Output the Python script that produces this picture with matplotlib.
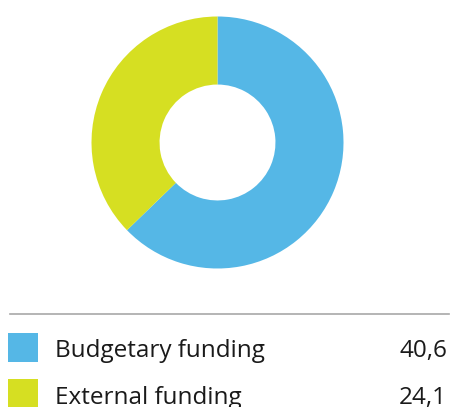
import matplotlib
matplotlib.use("Agg")
import matplotlib.pyplot as plt
from matplotlib.patches import Rectangle
from matplotlib.lines import Line2D

categories = ["Budgetary funding", "External funding"]
values = [40.6, 24.1]
value_labels = ["40,6", "24,1"]
colors = ["#55B7E6", "#D6DF22"]

W, H = 450, 407
fig = plt.figure(figsize=(W / 100, H / 100), dpi=100)
fig.patch.set_facecolor("white")

cx, cy, r = 217.5, 142.5, 126
ax = fig.add_axes([(cx - r) / W, 1 - (cy + r) / H, 2 * r / W, 2 * r / H])
ax.pie(values, colors=colors, startangle=90, counterclock=False, radius=1,
       wedgeprops=dict(width=0.54, edgecolor="none"))
ax.set_xlim(-1, 1)
ax.set_ylim(-1, 1)
ax.axis("off")

fig.add_artist(Line2D([10 / W, 449 / W], [1 - 314 / H, 1 - 314 / H],
                      color="#A8A8A8", linewidth=1.2, transform=fig.transFigure))

square_tops = [333, 379]
baselines = [357, 404]
for cat, lab, col, top, base in zip(categories, value_labels, colors, square_tops, baselines):
    fig.add_artist(Rectangle((8 / W, 1 - (top + 29) / H), 30 / W, 29 / H,
                             facecolor=col, edgecolor="none", transform=fig.transFigure))
    fig.text(55 / W, 1 - base / H, cat, ha="left", va="baseline", fontsize=17.5,
             family="Open Sans", color="#1a1a1a")
    fig.text(447 / W, 1 - base / H, lab, ha="right", va="baseline", fontsize=17.5,
             family="Open Sans", color="#1a1a1a")

fig.savefig("out.png", dpi=100)
